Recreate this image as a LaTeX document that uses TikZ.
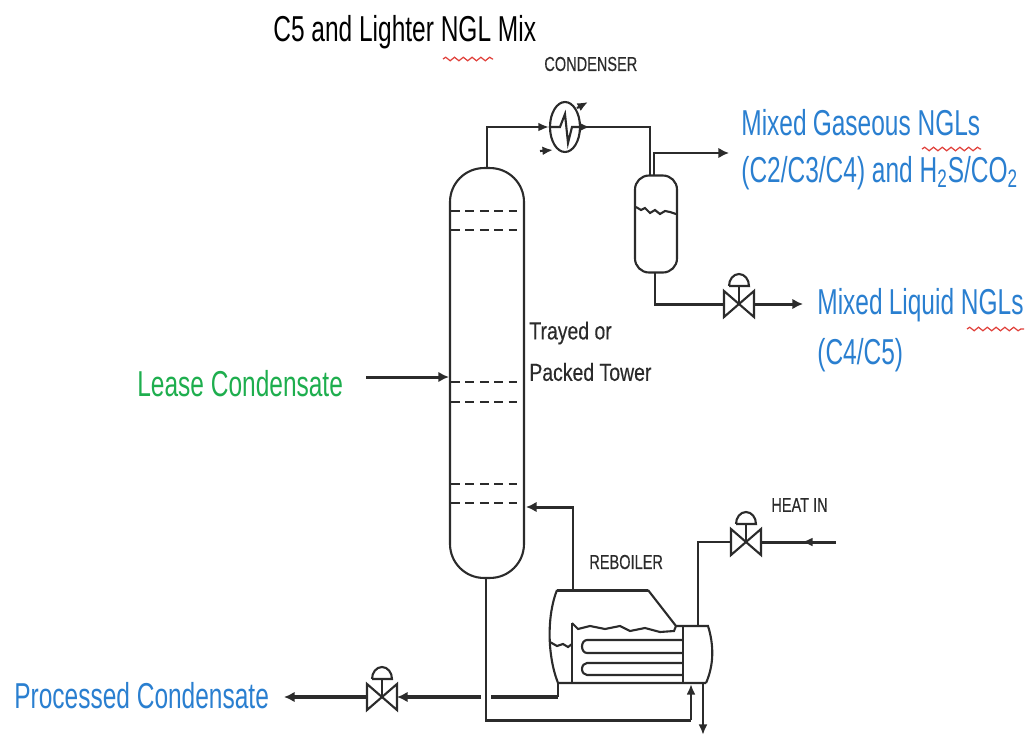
\documentclass[tikz,border=0pt]{standalone}
\usepackage{fontspec}
\setmainfont{Liberation Sans}
\newfontfamily\narrowfont[FakeStretch=0.68]{Liberation Sans}
\newfontfamily\tagfont[FakeStretch=0.72,FakeBold=0.4]{Liberation Sans}
\newfontfamily\towerfont[FakeStretch=0.79,FakeBold=0.3]{Liberation Sans}
\usepackage{xcolor}
\definecolor{Stream}{HTML}{2A7FD0}
\definecolor{Feed}{HTML}{1EAE4E}
\definecolor{Pipe}{HTML}{2B2B2B}
\definecolor{Squiggle}{HTML}{E0403A}
\usetikzlibrary{arrows.meta,positioning,shapes.geometric,calc,decorations.pathmorphing}

\begin{document}
\begin{tikzpicture}[
  x=0.02cm,y=-0.02cm,
  pipe/.style={draw=Pipe,line width=1.2pt},
  heavy/.style={draw=Pipe,line width=1.7pt},
  arrow/.style={pipe,-{Latex[length=6pt,width=5pt]}},
  heavyarrow/.style={heavy,-{Latex[length=6pt,width=6pt]}},
  tray/.style={draw=Pipe,line width=1.4pt,dash pattern=on 5pt off 3.2pt},
  label/.style={font=\narrowfont\fontsize{20.5}{22}\selectfont,anchor=west,inner sep=0pt},
  tag/.style={font=\tagfont\fontsize{11.5}{13}\selectfont,anchor=west,inner sep=0pt,text=Pipe},
  towertag/.style={font=\towerfont\fontsize{14}{16}\selectfont,anchor=west,inner sep=0pt,text=Pipe},
  squiggle/.style={draw=Squiggle,line width=0.7pt,decorate,decoration={snake,amplitude=1pt,segment length=5pt}},
  vessel/.style={draw=Pipe,line width=1.2pt,inner sep=0pt},
  valve/.pic={
    \draw[pipe] (-15,-13) -- (15,13) -- (15,-13) -- (-15,13) -- cycle;
    \draw[pipe] (0,0) -- (0,-18);
    \draw[pipe] (-10,-18) -- (10,-18) arc[start angle=0,end angle=-180,x radius=10,y radius=12];
    \coordinate (-l) at (-15,0);
    \coordinate (-r) at (15,0);
  }
]
  \useasboundingbox (0,0) rectangle (1029,738);

  % column and overhead drum
  \node[vessel,minimum width=1.48cm,minimum height=8.2cm,rounded corners=0.68cm] (tower) at (487,373) {};
  \node[vessel,minimum width=0.84cm,minimum height=1.94cm,rounded corners=0.28cm] (drum) at (656,224) {};
  \node[vessel,ellipse,minimum width=0.6cm,minimum height=1cm] (condenser) at (565,127) {};
  \foreach \y in {211,230,382,402,484,503}
    \draw[tray] (451,\y) -- (523,\y);

  % condenser
  \draw[pipe] (condenser.west) -- (560,127) -- (565,114) -- (568,143) -- (572,127) -- (condenser.east);
  \coordinate (coolin) at (540,151);
  \coordinate (coolend) at (553,150);
  \coordinate (coolout) at (577,108);
  \coordinate (coolend2) at (588,102);
  \draw[arrow] (coolin) -- (coolend);
  \draw[arrow] (coolout) -- (coolend2);
  \coordinate (arrowout) at (590,127);
  \draw[arrow] (condenser.east) -- (arrowout);
  \draw[arrow] (tower.north) |- (condenser.west);
  \coordinate (drumin) at (650,176);
  \draw[pipe] (condenser.east) -| (drumin);
  \coordinate (vapour) at (654,176);
  \coordinate (vapourend) at (729,153);
  \draw[heavyarrow] (vapour) |- (vapourend);
  \draw[pipe] (636,207) -- (641,210) -- (645,208) -- (650,213) -- (655,210) -- (660,214) -- (665,211) -- (670,212) -- (676,214);

  % valves
  \pic (vtop) at (739,304) {valve};
  \pic (vheat) at (746,542) {valve};
  \pic (vbottom) at (382,697) {valve};

  % liquid off the drum
  \coordinate (drumout) at (655,272);
  \coordinate (liquidend) at (803,304);
  \draw[heavy] (drumout) |- (vtop-l);
  \draw[heavyarrow] (vtop-r) -- (liquidend);

  % feed
  \coordinate (feed) at (366,377);
  \draw[heavyarrow] (feed) -- (tower.west |- feed);

  % reboiler
  \coordinate (rebtop) at (573,590);
  \draw[pipe] (557,590) .. controls (547,615) and (547,655) .. (558,683) -- (706,683);
  \draw[heavy] (557,590) -- (648,590);
  \draw[pipe] (648,590) -- (676,626) -- (708,626) .. controls (714,645) and (714,665) .. (706,683);
  \draw[pipe] (572,623) -- (572,683);
  \draw[pipe] (683,626) -- (683,683);
  \draw[pipe] (572,623) -- (578,629) -- (590,626) -- (605,629) -- (620,626) -- (630,631) -- (645,628) -- (660,632) -- (674,631) -- (676,626);
  \draw[pipe] (550,642) -- (557,646) -- (563,644) -- (568,647) -- (572,644);
  \draw[pipe] (683,640) -- (587,640) arc[start angle=270,end angle=90,x radius=5,y radius=6.5] -- (683,653);
  \draw[pipe] (683,663) -- (587,663) arc[start angle=270,end angle=90,x radius=5,y radius=6] -- (683,675);

  % reboiler connections
  \coordinate (rebvapour) at (526,507);
  \draw[heavyarrow] (rebtop) |- (rebvapour);
  \coordinate (heatsource) at (836,542);
  \coordinate (heatpoint) at (698,626);
  \draw[heavy] (heatsource) -- (vheat-r);
  \coordinate (heatarrow) at (802,542);
  \draw[arrow] (heatsource) -- (heatarrow);
  \draw[pipe] (heatpoint) |- (vheat-l);
  \coordinate (condensate) at (703,683);
  \coordinate (condensateend) at (703,735);
  \draw[arrow] (condensate) -- (condensateend);
  \coordinate (tubein) at (691,684);
  \coordinate (towerdrop) at (486,720);
  \coordinate (tubecorner) at (691,720);
  \draw[heavy] (tower.south -| towerdrop) -- (towerdrop) -- (tubecorner);
  \draw[arrow] (tubecorner) -- (tubein);

  % bottoms
  \coordinate (rebout) at (558,683);
  \coordinate (rebcorner) at (558,697);
  \coordinate (hopright) at (491,697);
  \coordinate (hopleft) at (481,697);
  \coordinate (productend) at (284,697);
  \draw[pipe] (rebout) -- (rebcorner);
  \draw[heavy,line width=2.2pt] (rebcorner) -- (hopright);
  \draw[heavyarrow,line width=2.2pt] (hopleft) -- (vbottom-r);
  \draw[heavyarrow,line width=2.2pt] (vbottom-l) -- (productend);

  % labels
  \node[label,text=black] (mix) at (273,32) {C5 and Lighter NGL Mix};
  \node[tag] (condlabel) at (544,64) {CONDENSER};
  \node[label,text=Stream] (gas) at (741,123) {Mixed\hspace{3.5pt}Gaseous NGLs};
  \node[label,text=Stream] (gas2) at (741,173) {(C2/C3/C4) and H\textsubscript{2}S/CO\textsubscript{2}};
  \node[label,text=Stream] (liq) at (817,305) {Mixed\hspace{3.5pt}Liquid NGLs};
  \node[label,text=Stream] (liq2) at (817,355) {(C4/C5)};
  \node[towertag] (trayed) at (529,333) {Trayed or};
  \node[towertag] (packed) at (529,372) {Packed Tower};
  \node[label,text=Feed] (lease) at (137,384) {Lease Condensate};
  \node[tag] (reblabel) at (589,562) {REBOILER};
  \node[tag] (heatlabel) at (771,505) {HEAT IN};
  \node[label,text=Stream] (product) at (14,696) {Processed Condensate};

  % spell-check marks
  \draw[squiggle] (443,59) -- (493,59);
  \draw[squiggle] (922,149) -- (981,149);
  \draw[squiggle] (967,329) -- (1024,329);
\end{tikzpicture}
\end{document}
